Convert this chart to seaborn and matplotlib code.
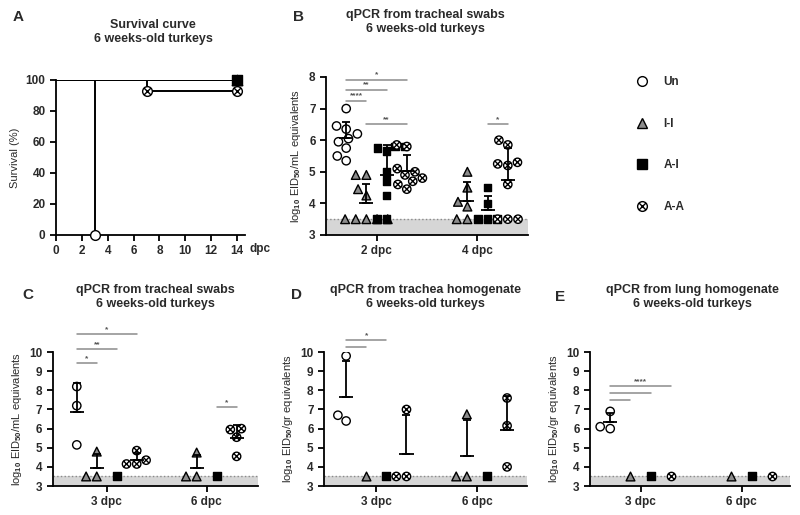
import matplotlib
matplotlib.use("Agg")
import matplotlib.pyplot as plt
from matplotlib.path import Path
from matplotlib.lines import Line2D
import pandas as pd
import seaborn as sns

GROUPS = ["Un", "I-I", "A-I", "A-A"]

# panel A - survival (%)
A_TIME_UN = [0, 3]
A_SURV_UN = [100, 0]
A_TIME_II = [0, 14]
A_SURV_II = [100, 100]
A_TIME_AI = [0, 14]
A_SURV_AI = [100, 100]
A_TIME_AA = [0, 7, 14]
A_SURV_AA = [100, 92.9, 92.9]

# panel B - tracheal swabs (log10 EID50/mL), one list per day
B_DAYS = ["2 dpc", "4 dpc"]
B_UN = [[7.0, 6.45, 6.35, 6.2, 6.05, 5.95, 5.75, 5.5, 5.35], []]
B_II = [[4.9, 4.9, 4.45, 4.25, 3.5, 3.5, 3.5, 3.5, 3.5], [5.0, 4.5, 4.05, 3.9, 3.5, 3.5]]
B_AI = [[5.8, 5.8, 5.75, 5.65, 5.0, 4.7, 4.25, 3.5, 3.5], [4.5, 4.0, 3.5, 3.5, 3.5]]
B_AA = [[5.85, 5.8, 5.1, 5.0, 4.9, 4.8, 4.7, 4.6, 4.45], [6.0, 5.85, 5.3, 5.25, 5.2, 4.6, 3.5, 3.5, 3.5]]

# panel C - tracheal swabs
C_DAYS = ["3 dpc", "6 dpc"]
C_UN = [[8.2, 7.2, 5.15], []]
C_II = [[4.8, 3.5, 3.5], [4.75, 3.5, 3.5]]
C_AI = [[3.5], [3.5]]
C_AA = [[4.85, 4.35, 4.15, 4.15], [6.0, 5.95, 5.55, 4.55]]

# panel D - trachea homogenate (log10 EID50/gr)
D_UN = [[9.8, 6.7, 6.4], []]
D_II = [[3.5], [6.75, 3.5, 3.5]]
D_AI = [[3.5], [3.5]]
D_AA = [[7.0, 3.5, 3.5], [7.6, 6.15, 4.0]]

# panel E - lung homogenate
E_UN = [[6.9, 6.1, 6.0], []]
E_II = [[3.5], [3.5]]
E_AI = [[3.5], [3.5]]
E_AA = [[3.5], [3.5]]

# significance bars: (day index, from group, to group, height, stars)
B_SIG = [(0, "Un", "A-A", 7.9, "*"), (0, "Un", "A-I", 7.58, "**"), (0, "Un", "I-I", 7.24, "****"),
         (0, "I-I", "A-A", 6.5, "**"), (1, "A-I", "A-A", 6.5, "*")]
C_SIG = [(0, "Un", "A-A", 10.95, "*"), (0, "Un", "A-I", 10.14, "**"), (0, "Un", "I-I", 9.43, "*"),
         (1, "A-I", "A-A", 7.14, "*")]
D_SIG = [(0, "Un", "A-I", 10.64, "*"), (0, "Un", "I-I", 10.26, "")]
E_SIG = [(0, "Un", "A-A", 8.21, "****"), (0, "Un", "A-I", 7.87, ""), (0, "Un", "I-I", 7.52, "")]

sns.set_style("ticks")
plt.rcParams["font.family"] = ["Liberation Sans", "DejaVu Sans"]
plt.rcParams["font.weight"] = "bold"
plt.rcParams["mathtext.fontset"] = "custom"
plt.rcParams["mathtext.rm"] = "Liberation Sans:bold"
plt.rcParams["mathtext.default"] = "rm"
plt.rcParams["text.color"] = "#2a2a2a"
plt.rcParams["axes.labelcolor"] = "#2a2a2a"
plt.rcParams["xtick.color"] = "#2a2a2a"
plt.rcParams["ytick.color"] = "#2a2a2a"

# circle with a cross, the A-A symbol
AA_MARK = Path.make_compound_path(
    Path.unit_circle(),
    Path([(-0.7, -0.7), (0.7, 0.7), (-0.7, 0.7), (0.7, -0.7)],
         [Path.MOVETO, Path.LINETO, Path.MOVETO, Path.LINETO]))
MARKS = {"Un": "o", "I-I": "^", "A-I": "s", "A-A": AA_MARK}
FACE = {"Un": "white", "I-I": "#8c8c8c", "A-I": "black", "A-A": "white"}
SIZES = {"Un": 7, "I-I": 7.5, "A-I": 6.5, "A-A": 7}
SWARM = {"Un": 6, "I-I": 6.3, "A-I": 5.6, "A-A": 6}  # a bit smaller so swarms stay narrow
OFFSET = {g: (i - 1.5) * 0.2 for i, g in enumerate(GROUPS)}
TXT = 8.5

fig = plt.figure(figsize=(8, 5.15), dpi=100)


def style_axes(ax):
    sns.despine(ax=ax)
    for s in ["left", "bottom"]:
        ax.spines[s].set_linewidth(1.3)
        ax.spines[s].set_color("black")
    ax.tick_params(direction="out", length=4, width=1.3, labelsize=TXT, color="black")


def dot_panel(ax, days, un, ii, ai, aa, ylim, ylabel, sigs, xlim):
    rows = []
    for g, per_day in zip(GROUPS, [un, ii, ai, aa]):
        for d, vals in zip(days, per_day):
            for v in vals:
                rows.append((d, g, v))
    df = pd.DataFrame(rows, columns=["day", "group", "value"])

    ax.axhspan(ylim[0], 3.5, color="#d6d6d6", zorder=0, lw=0)
    ax.axhline(3.5, color="#8a8a8a", ls=":", lw=1, zorder=1)

    for g in GROUPS:
        sub = df[df.group == g]
        sns.swarmplot(data=sub, x="day", y="value", hue="group", hue_order=GROUPS, order=days,
                      dodge=True, palette=FACE, marker=MARKS[g], size=SWARM[g],
                      edgecolor="black", linewidth=1.0, legend=False, ax=ax, zorder=4)

    # mean + SD, upper half only like in prism
    st = df.groupby(["day", "group"])["value"].agg(["mean", "std", "count"]).reset_index()
    for _, r in st.iterrows():
        if r["count"] < 2 or r["std"] == 0:
            continue
        x = days.index(r["day"]) + OFFSET[r["group"]]
        ax.hlines(r["mean"], x - 0.07, x + 0.07, color="black", lw=1.3, zorder=5)
        ax.errorbar(x, r["mean"], yerr=[[0], [r["std"]]], fmt="none", ecolor="black",
                    elinewidth=1.3, capsize=3, capthick=1.3, zorder=5)

    for di, g1, g2, y, lab in sigs:
        x1, x2 = di + OFFSET[g1], di + OFFSET[g2]
        ax.plot([x1, x2], [y, y], color="#8c8c8c", lw=1.1, clip_on=False, zorder=3)
        if lab:
            ax.text((x1 + x2) / 2, y + 0.05, lab, ha="center", va="bottom", fontsize=6,
                    color="#555555", clip_on=False)

    ax.set_xlim(*xlim)
    ax.set_ylim(*ylim)
    ax.set_yticks(range(ylim[0], ylim[1] + 1))
    ax.set_xlabel("")
    ax.set_ylabel(ylabel, fontsize=8)
    style_axes(ax)


# A survival curve
axA = fig.add_axes([0.07, 0.5437, 0.236, 0.301])
for t, s, g in [(A_TIME_II, A_SURV_II, "I-I"), (A_TIME_AA, A_SURV_AA, "A-A"),
                (A_TIME_UN, A_SURV_UN, "Un"), (A_TIME_AI, A_SURV_AI, "A-I")]:
    sns.lineplot(x=t, y=s, drawstyle="steps-post", color="black", lw=1.4, estimator=None,
                 ax=axA, zorder=3)
    sns.scatterplot(x=t[1:], y=s[1:], marker=MARKS[g], s=SIZES[g] ** 2, color=FACE[g],
                    edgecolor="black", linewidth=1.0, clip_on=False, ax=axA, zorder=5)
axA.set_xlim(0, 14.6)
axA.set_ylim(0, 100)
axA.set_xticks(range(0, 15, 2))
axA.set_yticks(range(0, 101, 20))
axA.set_ylabel("Survival (%)", fontsize=8)
axA.annotate("dpc", xy=(15.0, 0), xycoords=("data", "axes fraction"), xytext=(0, -5.5),
             textcoords="offset points", ha="left", va="top", fontsize=TXT, annotation_clip=False)
style_axes(axA)

axB = fig.add_axes([0.4075, 0.5437, 0.2525, 0.3068])
dot_panel(axB, B_DAYS, B_UN, B_II, B_AI, B_AA, (3, 8),
          "log$_{10}$ EID$_{50}$/mL equivalents", B_SIG, (-0.5, 1.5))

axC = fig.add_axes([0.066, 0.0563, 0.256, 0.260])
dot_panel(axC, C_DAYS, C_UN, C_II, C_AI, C_AA, (3, 10),
          "log$_{10}$ EID$_{50}$/mL equivalents", C_SIG, (-0.54, 1.51))

axD = fig.add_axes([0.405, 0.0563, 0.254, 0.260])
dot_panel(axD, C_DAYS, D_UN, D_II, D_AI, D_AA, (3, 10),
          "log$_{10}$ EID$_{50}$/gr equivalents", D_SIG, (-0.52, 1.5))

axE = fig.add_axes([0.7375, 0.0563, 0.25, 0.260])
dot_panel(axE, C_DAYS, E_UN, E_II, E_AI, E_AA, (3, 10),
          "log$_{10}$ EID$_{50}$/gr equivalents", E_SIG, (-0.5, 1.48))

# titles and panel letters (pixel centres from the original)
for x, y, t in [(153, 32, "Survival curve"), (425, 22, "qPCR from tracheal swabs"),
                (155, 297, "qPCR from tracheal swabs"), (425, 297, "qPCR from trachea homogenate"),
                (692, 297, "qPCR from lung homogenate")]:
    fig.text(x / 800, 1 - y / 515, t + "\n6 weeks-old turkeys", ha="center", va="center",
             fontsize=9, fontweight="bold", linespacing=1.3)
for x, y, l in [(18, 17, "A"), (298, 17, "B"), (28, 295, "C"), (296, 295, "D"), (560, 297, "E")]:
    fig.text(x / 800, 1 - y / 515, l, ha="center", va="center", fontsize=11, fontweight="bold")

handles = [Line2D([], [], ls="", marker=MARKS[g], markerfacecolor=FACE[g], markeredgecolor="black",
                  markeredgewidth=1.0, markersize=SIZES[g]) for g in GROUPS]
fig.legend(handles, GROUPS, loc="upper left", bbox_to_anchor=(0.7956, 0.852), frameon=False,
           handlelength=1, handletextpad=1.3, labelspacing=2.5, borderpad=0, borderaxespad=0,
           prop={"size": TXT, "weight": "bold"})

fig.savefig("out.png", dpi=100)
